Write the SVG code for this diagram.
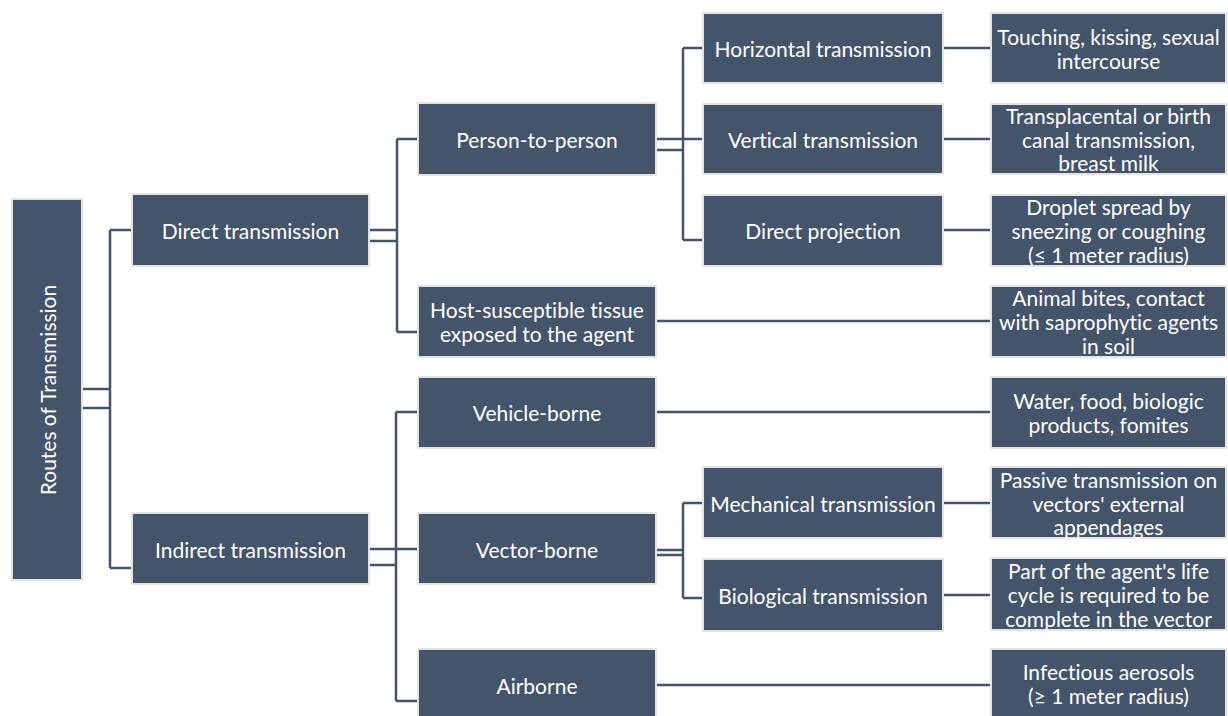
<svg xmlns="http://www.w3.org/2000/svg" width="1228" height="716" viewBox="0 0 1228 716">
<style>
.b{fill:#44546a;stroke:#e4e4e4;stroke-width:2}
.t{fill:#ffffff;font-family:Lato,"Open Sans","Liberation Sans",sans-serif;font-size:21px;text-anchor:middle;dominant-baseline:central;font-variant-ligatures:none}
.c{stroke:#44546a;stroke-width:2.5;fill:none}
</style>
<rect width="1228" height="716" fill="#ffffff"/>
<g id="connectors">
<path class="c" d="M82,389H110M82,408H110M110,230V568M110,230H132M110,568H132"/>
<path class="c" d="M369,230H397M369,241H397M397,139V332M397,139H418M397,332H418"/>
<path class="c" d="M656,139H683M656,150H683M683,48V240M683,48H703M683,139H703M683,240H703"/>
<path class="c" d="M943,48H991M943,139H991M943,230H991"/>
<path class="c" d="M656,321H991"/>
<path class="c" d="M369,549H396M369,565H396M396,412V701M396,412H418M396,549H418M396,701H418"/>
<path class="c" d="M656,412H991"/>
<path class="c" d="M656,550H683M656,555H683M683,503V598M683,503H703M683,598H703"/>
<path class="c" d="M943,503H991M943,595H991"/>
<path class="c" d="M656,685H991"/>
</g>
<g id="root"><rect class="b" x="12" y="199" width="70" height="381"/><text class="t" transform="translate(47,390) rotate(-90)">Routes of Transmission</text></g>
<g id="direct"><rect class="b" x="132" y="194" width="237" height="72"/><text class="t" x="250.5" y="230">Direct transmission</text></g>
<g id="indirect"><rect class="b" x="132" y="513" width="237" height="71"/><text class="t" x="250.5" y="549">Indirect transmission</text></g>
<g id="person"><rect class="b" x="418" y="103" width="238" height="72"/><text class="t" x="537" y="139">Person-to-person</text></g>
<g id="host"><rect class="b" x="418" y="286" width="238" height="71"/><text class="t" x="537" y="309">Host-susceptible tissue</text><text class="t" x="537" y="333">exposed to the agent</text></g>
<g id="vehicle"><rect class="b" x="418" y="377" width="238" height="71"/><text class="t" x="537" y="412">Vehicle-borne</text></g>
<g id="vector"><rect class="b" x="418" y="513" width="238" height="71"/><text class="t" x="537" y="549">Vector-borne</text></g>
<g id="airborne"><rect class="b" x="418" y="649" width="238" height="72"/><text class="t" x="537" y="685">Airborne</text></g>
<g id="horizontal"><rect class="b" x="703" y="13" width="240" height="70"/><text class="t" x="823" y="48">Horizontal transmission</text></g>
<g id="vertical"><rect class="b" x="703" y="104" width="240" height="70"/><text class="t" x="823" y="139">Vertical transmission</text></g>
<g id="projection"><rect class="b" x="703" y="195" width="240" height="71"/><text class="t" x="823" y="230">Direct projection</text></g>
<g id="mechanical"><rect class="b" x="703" y="467" width="240" height="71"/><text class="t" x="823" y="503">Mechanical transmission</text></g>
<g id="biological"><rect class="b" x="703" y="559" width="240" height="72"/><text class="t" x="823" y="595">Biological transmission</text></g>
<g id="touching"><rect class="b" x="991" y="13" width="235" height="70"/><text class="t" x="1108.5" y="36">Touching, kissing, sexual</text><text class="t" x="1108.5" y="60">intercourse</text></g>
<g id="transplacental"><rect class="b" x="991" y="104" width="235" height="70"/><text class="t" x="1108.5" y="115">Transplacental or birth</text><text class="t" x="1108.5" y="139">canal transmission,</text><text class="t" x="1108.5" y="162">breast milk</text></g>
<g id="droplet"><rect class="b" x="991" y="195" width="235" height="71"/><text class="t" x="1108.5" y="206">Droplet spread by</text><text class="t" x="1108.5" y="230">sneezing or coughing</text><text class="t" x="1108.5" y="254">(≤ 1 meter radius)</text></g>
<g id="animal"><rect class="b" x="991" y="286" width="235" height="71"/><text class="t" x="1108.5" y="297">Animal bites, contact</text><text class="t" x="1108.5" y="321">with saprophytic agents</text><text class="t" x="1108.5" y="345">in soil</text></g>
<g id="water"><rect class="b" x="991" y="377" width="235" height="71"/><text class="t" x="1108.5" y="400">Water, food, biologic</text><text class="t" x="1108.5" y="424">products, fomites</text></g>
<g id="passive"><rect class="b" x="991" y="467" width="235" height="71"/><text class="t" x="1108.5" y="479">Passive transmission on</text><text class="t" x="1108.5" y="503">vectors' external</text><text class="t" x="1108.5" y="526">appendages</text></g>
<g id="part"><rect class="b" x="991" y="558" width="235" height="72"/><text class="t" x="1108.5" y="570">Part of the agent's life</text><text class="t" x="1108.5" y="594">cycle is required to be</text><text class="t" x="1108.5" y="618">complete in the vector</text></g>
<g id="infectious"><rect class="b" x="991" y="649" width="235" height="72"/><text class="t" x="1108.5" y="671">Infectious aerosols</text><text class="t" x="1108.5" y="695">(≥ 1 meter radius)</text></g>
</svg>
